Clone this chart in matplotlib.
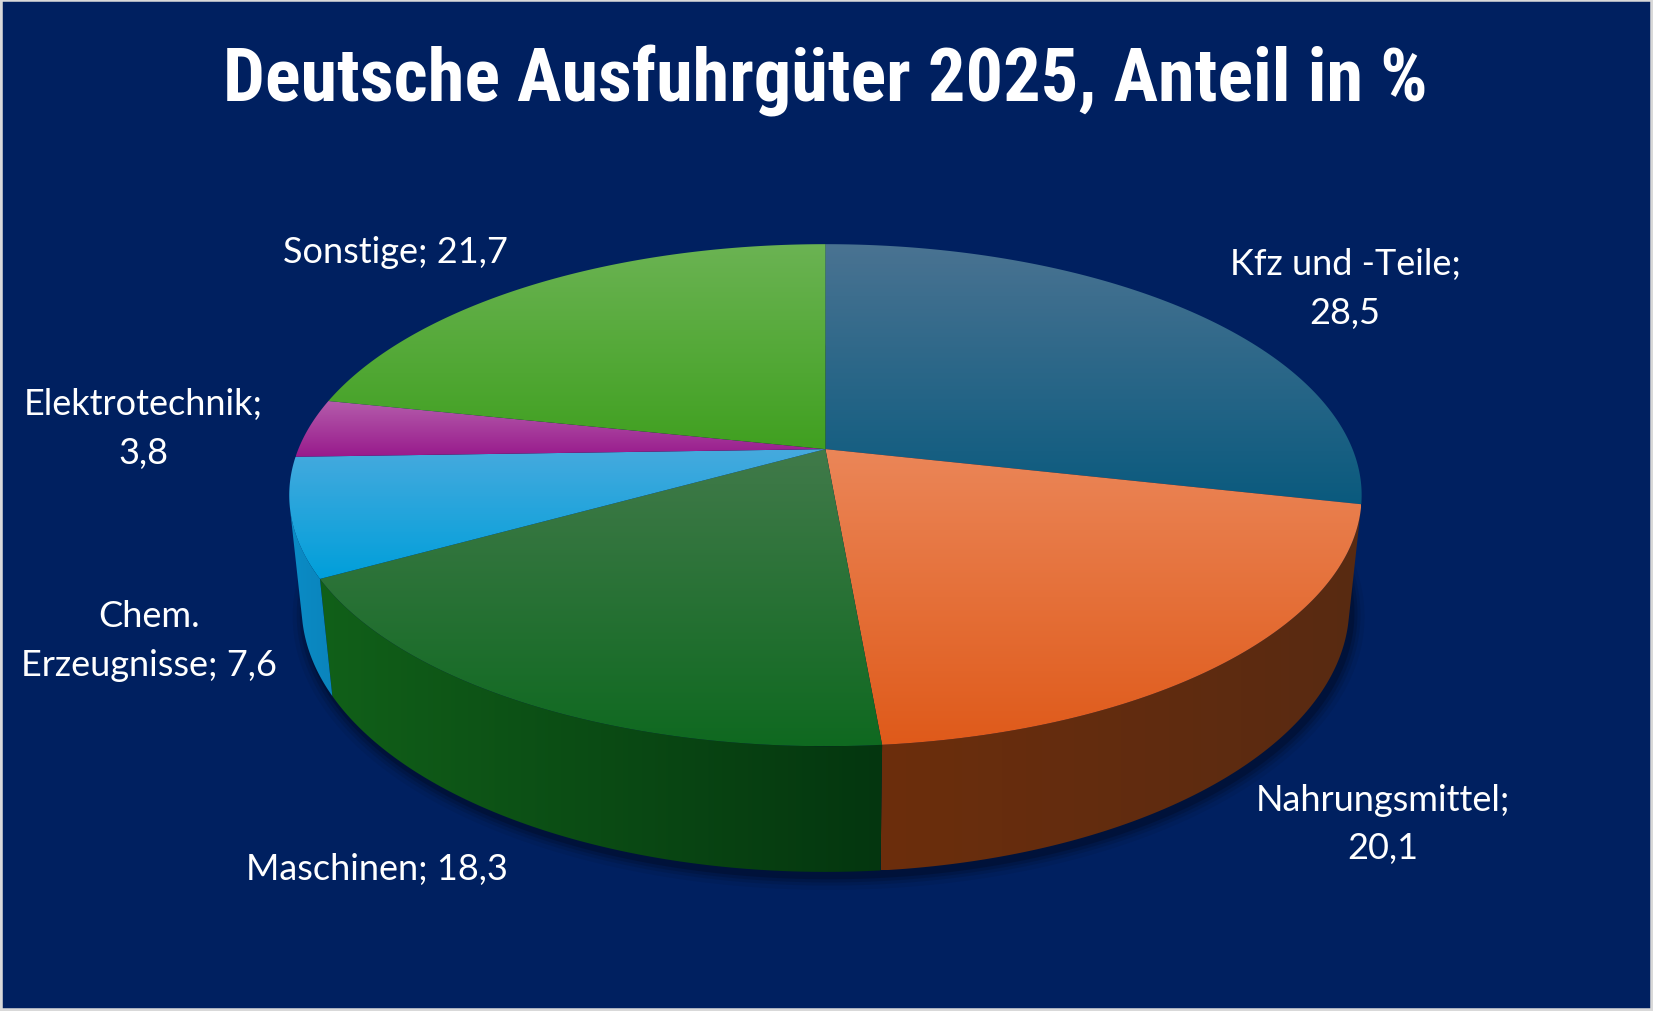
import numpy as np
import matplotlib
matplotlib.use('Agg')
import matplotlib.pyplot as plt
from matplotlib import font_manager
from matplotlib.patches import Polygon, Rectangle
from matplotlib.colors import LinearSegmentedColormap

# data
categories = ['Kfz und -Teile', 'Nahrungsmittel', 'Maschinen', 'Chem. Erzeugnisse',
              'Elektrotechnik', 'Sonstige']
values = [28.5, 20.1, 18.3, 7.6, 3.8, 21.7]
label_text = ['Kfz und -Teile;\n28,5', 'Nahrungsmittel;\n20,1', 'Maschinen; 18,3',
              'Chem.\nErzeugnisse; 7,6', 'Elektrotechnik;\n3,8', 'Sonstige; 21,7']
top_colors = [('#4a7392', '#0a5a7e'), ('#eb8658', '#df5a1a'), ('#417a4a', '#0f6920'),
              ('#46aade', '#009fda'), ('#b45cab', '#981a8c'), ('#6bb353', '#40a020')]
# wall gradient, left -> right
wall_colors = [('#0a4a68', '#0a4a68'), ('#6c2e0c', '#582a12'), ('#116019', '#04360f'),
               ('#0b8cc6', '#0a84bc'), ('#7a1470', '#7a1470'), ('#2f7a18', '#2f7a18')]
label_pos = [(1276, 274), (1312, 782), (358, 825), (141, 608), (136, 407), (375, 240)]

W, H = 1568, 960          # working units (reference as displayed)
cx, cy = 783, 427          # pie apex on screen
elev = np.radians(27.4)
dist = 4.84
focal = 500 * dist
thick = 0.24


def proj(theta, z):
    X, Y, Z = np.sin(theta), np.cos(theta), z
    depth = Y * np.cos(elev) + dist - Z * np.sin(elev)
    up = Y * np.sin(elev) + Z * np.cos(elev)
    return cx + focal * X / depth, cy - focal * up / depth


def grad_fill(ax, xy, c1, c2, vertical=True, z=2):
    poly = Polygon(xy, closed=True, facecolor='none', edgecolor='none', zorder=z)
    ax.add_patch(poly)
    x0, y0 = xy.min(axis=0)
    x1, y1 = xy.max(axis=0)
    g = np.linspace(0, 1, 256)
    arr = g[:, None] if vertical else g[None, :]
    cmap = LinearSegmentedColormap.from_list('g', [c1, c2])
    im = ax.imshow(arr, cmap=cmap, extent=(x0, x1, y1, y0), origin='upper',
                   aspect='auto', zorder=z, interpolation='bilinear')
    im.set_clip_path(poly)


fig = plt.figure(figsize=(16.53, 10.12), dpi=100)
ax = fig.add_axes([0, 0, 1, 1])
ax.set_facecolor('#002060')
fig.patch.set_facecolor('#002060')

# shadow below the pie
t_all = np.linspace(0, 2 * np.pi, 400)
bx, by = proj(t_all, -thick)
for k, a in zip([12, 8, 5, 2], [0.06, 0.09, 0.12, 0.18]):
    sx = cx + (bx - cx) * (1 + k / 520) + 3
    sy = cy + (by - cy) * (1 + k / 400) + 5
    ax.add_patch(Polygon(np.column_stack([sx, sy]), closed=True, facecolor='black',
                         edgecolor='none', alpha=a, zorder=1))

# walls (visible front part) and top faces
vis_lo = np.arccos(-1 / (dist * np.cos(elev)))
vis_hi = 2 * np.pi - vis_lo
cum = np.concatenate([[0], np.cumsum(values)]) / sum(values) * 2 * np.pi
for i in range(len(values)):
    a0, a1 = cum[i], cum[i + 1]
    w0, w1 = max(a0, vis_lo), min(a1, vis_hi)
    if w1 > w0:
        t = np.linspace(w0, w1, 200)
        tx, ty = proj(t, 0)
        bx2, by2 = proj(t[::-1], -thick)
        xy = np.column_stack([np.r_[tx, bx2], np.r_[ty, by2]])
        grad_fill(ax, xy, *wall_colors[i], vertical=False, z=2)

for i in range(len(values)):
    a0, a1 = cum[i], cum[i + 1]
    t = np.linspace(a0, a1, 300)
    tx, ty = proj(t, 0)
    xy = np.column_stack([np.r_[cx, tx], np.r_[cy, ty]])
    grad_fill(ax, xy, *top_colors[i], vertical=True, z=3)

# labels
for txt, (lx, ly) in zip(label_text, label_pos):
    ax.text(lx, ly, txt, color='white', fontsize=26, ha='center', va='center',
            family=['Lato', 'DejaVu Sans'], linespacing=1.58, zorder=5)

# title: pick a condensed heavy face if one is installed
names = {f.name for f in font_manager.fontManager.ttflist}
title_font = next((n for n in ['Roboto Condensed', 'Liberation Sans Narrow',
                               'DejaVu Sans Condensed', 'Roboto'] if n in names),
                  'DejaVu Sans')
title = ax.text(783, 77, 'Deutsche Ausfuhrgüter 2025, Anteil in %', color='white',
                fontsize=50, fontweight='black', ha='center', va='center',
                family=[title_font, 'DejaVu Sans'], zorder=5)

ax.set_xlim(0, W)
ax.set_ylim(H, 0)
ax.axis('off')

# fit the title to the reference width (1143 of 1568 units)
fig.canvas.draw()
bb = title.get_window_extent()
target = 1143 / W * fig.bbox.width
title.set_fontsize(50 * target / bb.width)

fig.patches.append(Rectangle((0, 0), 1, 1, transform=fig.transFigure, fill=False,
                             edgecolor='#d9d9d9', linewidth=4))
fig.savefig('out.png', dpi=100, facecolor=fig.get_facecolor())
